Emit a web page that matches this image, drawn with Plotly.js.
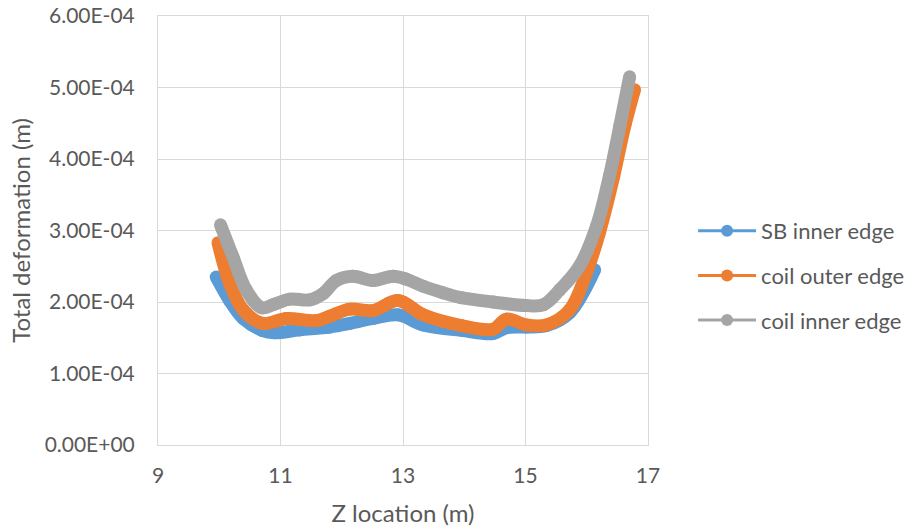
<!DOCTYPE html>
<html>
<head>
<meta charset="utf-8">
<script src="https://cdn.plot.ly/plotly-3.0.1.min.js"></script>
<style>html,body{margin:0;padding:0;background:#fff;}#chart{width:910px;height:529px;}</style>
</head>
<body>
<div id="chart"></div>
<script>
// Series: SB inner edge
const sbX = [9.95, 10.17, 10.39, 10.71, 10.9, 11.31, 11.8, 12.13, 12.51, 12.92, 13.33, 13.98, 14.47, 14.69, 15.01, 15.34, 15.72, 16.13];
const sbY = [2.35e-4, 2.02e-4, 1.77e-4, 1.60e-4, 1.57e-4, 1.61e-4, 1.65e-4, 1.70e-4, 1.77e-4, 1.82e-4, 1.68e-4, 1.60e-4, 1.56e-4, 1.64e-4, 1.65e-4, 1.67e-4, 1.85e-4, 2.45e-4];
// Series: coil outer edge
const coX = [9.98, 10.17, 10.39, 10.71, 11.1, 11.59, 11.8, 12.13, 12.51, 12.92, 13.33, 13.95, 14.47, 14.69, 15.01, 15.34, 15.72, 16.0, 16.2, 16.44, 16.62, 16.78];
const coY = [2.83e-4, 2.26e-4, 1.89e-4, 1.70e-4, 1.77e-4, 1.74e-4, 1.80e-4, 1.90e-4, 1.88e-4, 2.02e-4, 1.82e-4, 1.67e-4, 1.62e-4, 1.76e-4, 1.68e-4, 1.68e-4, 1.89e-4, 2.42e-4, 2.95e-4, 3.76e-4, 4.46e-4, 4.97e-4];
// Series: coil inner edge
const ciX = [10.02, 10.22, 10.44, 10.69, 10.9, 11.15, 11.48, 11.7, 11.91, 12.18, 12.51, 12.84, 13.05, 13.33, 13.65, 13.95, 14.47, 15.01, 15.29, 15.56, 15.88, 16.16, 16.37, 16.54, 16.7];
const ciY = [3.08e-4, 2.64e-4, 2.17e-4, 1.92e-4, 1.97e-4, 2.04e-4, 2.03e-4, 2.12e-4, 2.30e-4, 2.36e-4, 2.30e-4, 2.36e-4, 2.32e-4, 2.22e-4, 2.13e-4, 2.06e-4, 2.00e-4, 1.95e-4, 1.96e-4, 2.17e-4, 2.50e-4, 3.06e-4, 3.76e-4, 4.46e-4, 5.15e-4];

const seriesNames = ['SB inner edge', 'coil outer edge', 'coil inner edge'];
const seriesColors = ['#5B9BD5', '#ED7D31', '#A5A5A5'];

const yTickVals = [0, 1e-4, 2e-4, 3e-4, 4e-4, 5e-4, 6e-4];
const yTickText = ['0.00E+00', '1.00E-04', '2.00E-04', '3.00E-04', '4.00E-04', '5.00E-04', '6.00E-04'];
const xTickVals = [9, 11, 13, 15, 17];

const xs = [sbX, coX, ciX];
const ys = [sbY, coY, ciY];

const traces = [];
for (let i = 0; i < 3; i++) {
  traces.push({
    x: xs[i], y: ys[i], type: 'scatter', mode: 'lines+markers',
    line: {color: seriesColors[i], width: 13, shape: 'spline', smoothing: 1},
    marker: {color: seriesColors[i], size: 13},
    showlegend: false, hoverinfo: 'skip'
  });
}
for (let i = 0; i < 3; i++) {
  traces.push({
    x: [null], y: [null], type: 'scatter', mode: 'lines+markers',
    name: seriesNames[i], legendgroup: 'g' + i,
    line: {color: seriesColors[i], width: 3},
    marker: {color: seriesColors[i], size: 12}
  });
}

const fontFam = 'Lato, "Open Sans", sans-serif';
const layout = {
  width: 910, height: 529,
  margin: {l: 158, r: 262, t: 16, b: 84, autoexpand: false},
  paper_bgcolor: '#fff', plot_bgcolor: '#fff',
  font: {family: fontFam, color: '#595959', size: 21},
  showlegend: true,
  legend: {
    x: 1.092, xanchor: 'left', y: 0.395, yanchor: 'middle',
    font: {family: fontFam, size: 22, color: '#595959'},
    tracegroupgap: 13, itemwidth: 58, traceorder: 'grouped',
    bgcolor: 'rgba(0,0,0,0)'
  },
  xaxis: {
    range: [9, 17], tickvals: xTickVals, ticks: '', showgrid: true,
    gridcolor: '#D9D9D9', gridwidth: 1, zeroline: false,
    showline: true, linecolor: '#D9D9D9', linewidth: 1, mirror: true,
    tickfont: {family: fontFam, size: 21, color: '#595959'},
    ticklabelstandoff: 12,
    title: {text: 'Z location (m)', font: {family: fontFam, size: 24, color: '#595959'}, standoff: 18},
    automargin: false
  },
  yaxis: {
    range: [0, 6e-4], tickvals: yTickVals, ticktext: yTickText, ticks: '',
    showgrid: true, gridcolor: '#D9D9D9', gridwidth: 1, zeroline: false,
    showline: true, linecolor: '#D9D9D9', linewidth: 1, mirror: true,
    tickfont: {family: fontFam, size: 21, color: '#595959'},
    ticklabelstandoff: 18,
    title: {text: 'Total deformation (m)', font: {family: fontFam, size: 24, color: '#595959'}, standoff: 7},
    automargin: false
  }
};

Plotly.newPlot('chart', traces, layout, {displayModeBar: false, staticPlot: true});
</script>
</body>
</html>
